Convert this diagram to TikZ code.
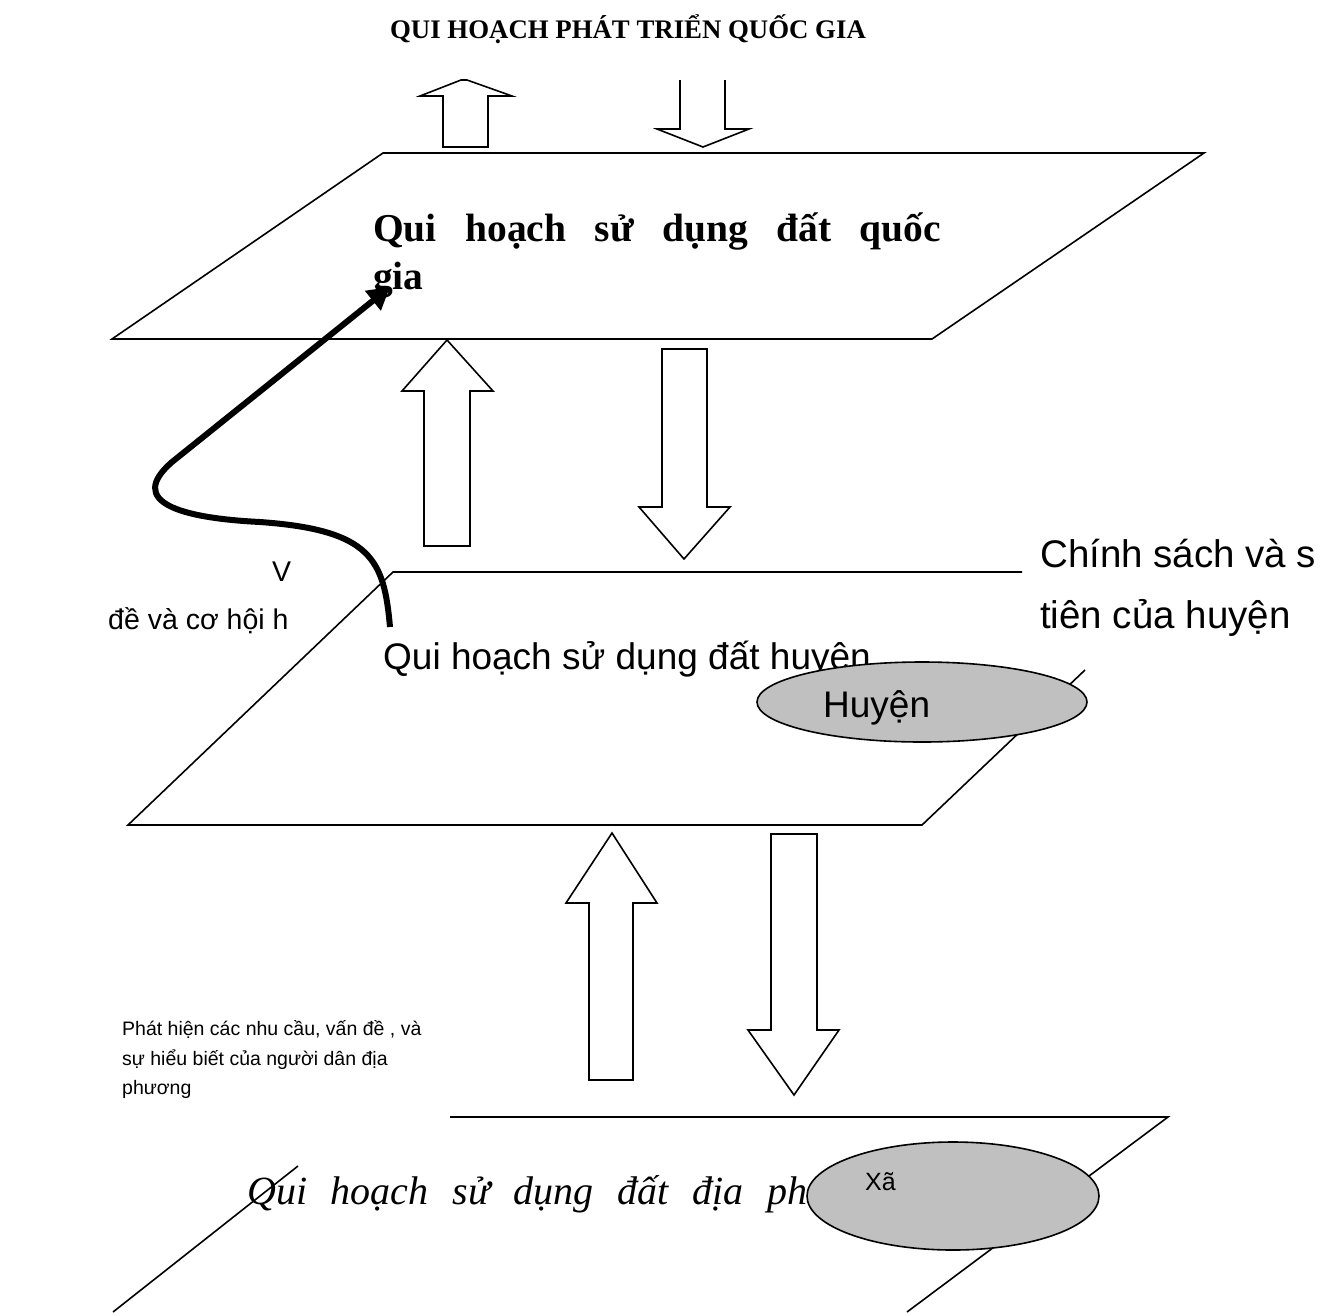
\documentclass[tikz,border=0pt]{standalone}
\usepackage{fontspec}
\setmainfont{Liberation Serif}
\newfontfamily\arialf{Liberation Sans}
\usetikzlibrary{arrows.meta,shapes.geometric}
\definecolor{shade}{RGB}{192,192,192}
\begin{document}
\begin{tikzpicture}[x=1pt,y=-1pt,
  edge/.style={line width=1.6pt, line join=miter},
  blockarrow/.style={line width=1.6pt, line join=miter},
  sans/.style={inner sep=0, anchor=base west, font=\arialf\fontsize{37}{44}\selectfont},
  bigsans/.style={inner sep=0, anchor=base west, font=\arialf\fontsize{38.5}{44}\selectfont},
  midsans/.style={inner sep=0, anchor=base west, font=\arialf\fontsize{28.5}{32}\selectfont},
  smallsans/.style={inner sep=0, anchor=base west, font=\arialf\fontsize{19.5}{24}\selectfont},
  blob/.style={ellipse, draw, line width=1.6pt, fill=shade, inner sep=0}]
\useasboundingbox (0,0) rectangle (1330,1312);

% title
\node[inner sep=0, anchor=base, font=\bfseries\fontsize{26.8}{32}\selectfont] (title) at (628,38) {QUI HOẠCH PHÁT TRIỂN QUỐC GIA};

% national level plane
\draw[edge] (383,153) -- (1204,153) -- (932,339) -- (112,339) -- cycle;
\node[inner sep=0, anchor=base west, font=\bfseries\fontsize{39.5}{48}\selectfont] (nat1) at (373,241) {\makebox[568pt][s]{Qui hoạch sử dụng đất quốc}};
\node[inner sep=0, anchor=base west, font=\bfseries\fontsize{39.5}{48}\selectfont] (nat2) at (373,289) {gia};

% arrows above the national plane
\draw[blockarrow] (443,147) -- (443,96) -- (420,96) -- (461,80) -- (467,80) -- (512,96) -- (488,96) -- (488,147) -- cycle;
\draw[blockarrow] (680,80) -- (680,129) -- (657,129) -- (703,147) -- (749,129) -- (725,129) -- (725,80);

% arrows between national and district planes
\draw[blockarrow] (424,546) -- (424,391) -- (402,391) -- (447,340) -- (493,391) -- (470,391) -- (470,546) -- cycle;
\draw[blockarrow] (662,349) -- (707,349) -- (707,507) -- (730,507) -- (684,559) -- (639,507) -- (662,507) -- cycle;

% district level plane
\draw[edge] (1022,572) -- (393,572) -- (128,825) -- (922,825) -- (1085,670);
\node[sans] (dist) at (383,669) {Qui hoạch sử dụng đất huyện};
\node[bigsans] (pol1) at (1040,567) {Chính sách và s};
\node[bigsans] (pol2) at (1040,628) {tiên của huyện};
\node[blob, minimum width=330pt, minimum height=80pt] (huyen) at (922,702) {};
\node[sans] (huyentxt) at (823,717) {Huyện};

% side notes
\node[midsans] (v1) at (272,581) {V};
\node[midsans] (v2) at (108,629) {đề và cơ hội h};

% feedback arrow to the national plane
\coordinate (fbstart) at (390,627);
\coordinate (fbend) at (390,287);
\draw[line width=6pt, -{Triangle[length=22pt,width=24pt]}] (fbstart) .. controls (384,560) and (372,530) .. (260,522) .. controls (180,518) and (126,502) .. (172,462) -- (fbend);

% arrows between district and commune planes
\draw[blockarrow] (589,1080) -- (589,903) -- (566,903) -- (612,833) -- (657,903) -- (633,903) -- (633,1080) -- cycle;
\draw[blockarrow] (771,834) -- (817,834) -- (817,1030) -- (839,1030) -- (794,1095) -- (748,1030) -- (771,1030) -- cycle;

% local needs note
\node[smallsans] (need1) at (122,1035) {Phát hiện các nhu cầu, vấn đề , và};
\node[smallsans] (need2) at (122,1065) {sự hiểu biết của người dân địa};
\node[smallsans] (need3) at (122,1094) {phương};

% commune level plane
\draw[edge] (450,1117) -- (1168,1117) -- (907,1312);
\draw[edge] (298,1166) -- (113,1312);
\node[inner sep=0, anchor=base west, font=\itshape\fontsize{40}{48}\selectfont] (loc) at (247,1204) {\makebox[560pt][s]{Qui hoạch sử dụng đất địa ph}};
\node[blob, minimum width=292pt, minimum height=108pt] (xa) at (953,1196) {};
\node[inner sep=0, anchor=base west, font=\arialf\fontsize{25}{30}\selectfont] (xatxt) at (865,1190) {Xã};
\end{tikzpicture}
\end{document}
